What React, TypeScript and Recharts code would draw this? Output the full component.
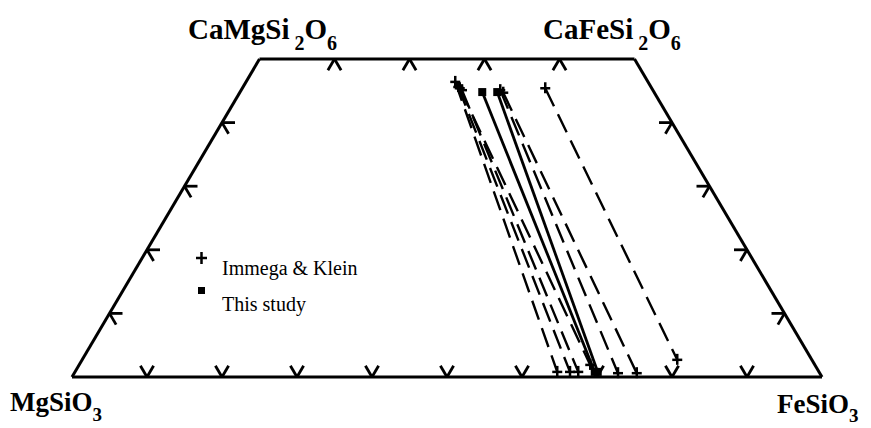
import React from "react";
import { ScatterChart, Scatter, XAxis, YAxis, ReferenceLine } from "recharts";

// Pyroxene quadrilateral: x = position along En-Fs (0-100), y = Wo (0-50)
const corners = [
  { x: 0, y: 0 },
  { x: 100, y: 0 },
  { x: 75, y: 50 },
  { x: 25, y: 50 },
];

const bottomTicks = [10, 20, 30, 40, 50, 60, 70, 80, 90];
const topTicks = [35, 45, 55, 65];
const sideTicks = [10, 20, 30, 40];

// Immega & Klein tie lines (Ca-rich end / Ca-poor end)
const immegaHigh = [
  { x: 51.1, y: 46.4 },
  { x: 51.5, y: 45.6 },
  { x: 52.0, y: 45.1 },
  { x: 51.7, y: 45.4 },
  { x: 57.1, y: 45.1 },
  { x: 57.5, y: 44.7 },
  { x: 63.1, y: 45.4 },
];
const immegaLow = [
  { x: 64.7, y: 0.8 },
  { x: 66.4, y: 0.8 },
  { x: 67.5, y: 0.8 },
  { x: 69.1, y: 1.9 },
  { x: 72.8, y: 0.6 },
  { x: 75.3, y: 0.6 },
  { x: 80.7, y: 2.7 },
];

// This study tie lines
const studyHigh = [
  { x: 54.7, y: 44.8 },
  { x: 56.7, y: 44.8 },
];
const studyLow = [
  { x: 69.7, y: 0.8 },
  { x: 70.1, y: 0.8 },
];

const W = 871;
const H = 428;
const ARM = 13;

// edge directions in pixels (plot is 750 x 318)
const unit = (dx: number, dy: number) => {
  const l = Math.hypot(dx, dy);
  return [dx / l, dy / l];
};
const LEFT_UP = unit(187.5, -318); // along left edge, going up
const RIGHT_DOWN = unit(187.5, 318); // along right edge, going down

const tickShape = (dirs: number[][]) => (props: any) => {
  const { cx, cy } = props;
  return (
    <g>
      {dirs.map((d, i) => (
        <line
          key={i}
          x1={cx}
          y1={cy}
          x2={cx + d[0] * ARM}
          y2={cy + d[1] * ARM}
          stroke="#000"
          strokeWidth={2.8}
        />
      ))}
    </g>
  );
};

const Cross = (props: any) => {
  const { cx, cy } = props;
  return (
    <g stroke="#000" strokeWidth={2.5}>
      <line x1={cx - 5} y1={cy} x2={cx + 5} y2={cy} />
      <line x1={cx} y1={cy - 6} x2={cx} y2={cy + 5} />
    </g>
  );
};

const Square = (props: any) => {
  const { cx, cy } = props;
  return <rect x={cx - 4} y={cy - 4} width={8} height={8} fill="#000" />;
};

const serif = '"Liberation Serif", "DejaVu Serif", serif';

export default function App() {
  const edges = corners.map((c, i) => [c, corners[(i + 1) % corners.length]]);
  return (
    <div style={{ position: "absolute", left: 0, top: 0, width: W, height: H, background: "#fff" }}>
      <ScatterChart width={W} height={H} margin={{ top: 59, right: 49, bottom: 51, left: 72 }}>
        <XAxis type="number" dataKey="x" domain={[0, 100]} hide />
        <YAxis type="number" dataKey="y" domain={[0, 50]} hide />
        {edges.map((seg, i) => (
          <ReferenceLine
            key={"e" + i}
            segment={seg}
            stroke="#000"
            strokeWidth={3}
            ifOverflow="visible"
          />
        ))}
        {immegaHigh.map((p, i) => (
          <ReferenceLine
            key={"i" + i}
            segment={[p, immegaLow[i]]}
            stroke="#000"
            strokeWidth={2.4}
            strokeDasharray="20 9"
            ifOverflow="visible"
          />
        ))}
        {studyHigh.map((p, i) => (
          <ReferenceLine
            key={"s" + i}
            segment={[p, studyLow[i]]}
            stroke="#000"
            strokeWidth={2.8}
            ifOverflow="visible"
          />
        ))}
        <Scatter
          data={bottomTicks.map((x) => ({ x, y: 0 }))}
          shape={tickShape([[-RIGHT_DOWN[0], -RIGHT_DOWN[1]], LEFT_UP])}
          isAnimationActive={false}
        />
        <Scatter
          data={topTicks.map((x) => ({ x, y: 50 }))}
          shape={tickShape([[-LEFT_UP[0], -LEFT_UP[1]], RIGHT_DOWN])}
          isAnimationActive={false}
        />
        <Scatter
          data={sideTicks.map((y) => ({ x: y / 2, y }))}
          shape={tickShape([[1, 0], RIGHT_DOWN])}
          isAnimationActive={false}
        />
        <Scatter
          data={sideTicks.map((y) => ({ x: 100 - y / 2, y }))}
          shape={tickShape([[-1, 0], [-LEFT_UP[0], -LEFT_UP[1]]])}
          isAnimationActive={false}
        />
        <Scatter data={[...immegaHigh, ...immegaLow]} shape={Cross} isAnimationActive={false} />
        <Scatter data={[...studyHigh, ...studyLow]} shape={Square} isAnimationActive={false} />
      </ScatterChart>
      <svg
        width={W}
        height={H}
        style={{ position: "absolute", left: 0, top: 0, pointerEvents: "none" }}
        fontFamily={serif}
      >
        <text x={188} y={39} fontSize={29} fontWeight="bold">
          CaMgSi
          <tspan dx={5} dy={11} fontSize={20}>2</tspan>
          <tspan dy={-11}>O</tspan>
          <tspan dy={11} fontSize={20}>6</tspan>
        </text>
        <text x={543} y={39} fontSize={29} fontWeight="bold">
          CaFeSi
          <tspan dx={5} dy={11} fontSize={20}>2</tspan>
          <tspan dy={-11}>O</tspan>
          <tspan dy={11} fontSize={20}>6</tspan>
        </text>
        <text x={10} y={411} fontSize={27} fontWeight="bold">
          MgSiO
          <tspan dy={10} fontSize={19}>3</tspan>
        </text>
        <text x={777} y={413} fontSize={27} fontWeight="bold">
          FeSiO
          <tspan dy={9} fontSize={19}>3</tspan>
        </text>
        <g stroke="#000" strokeWidth={2.5}>
          <line x1={196} y1={258} x2={207} y2={258} />
          <line x1={201.5} y1={252} x2={201.5} y2={264} />
        </g>
        <text x={222} y={275} fontSize={20}>Immega &amp; Klein</text>
        <rect x={198} y={287} width={7} height={7} fill="#000" />
        <text x={222} y={311} fontSize={20}>This study</text>
      </svg>
    </div>
  );
}
